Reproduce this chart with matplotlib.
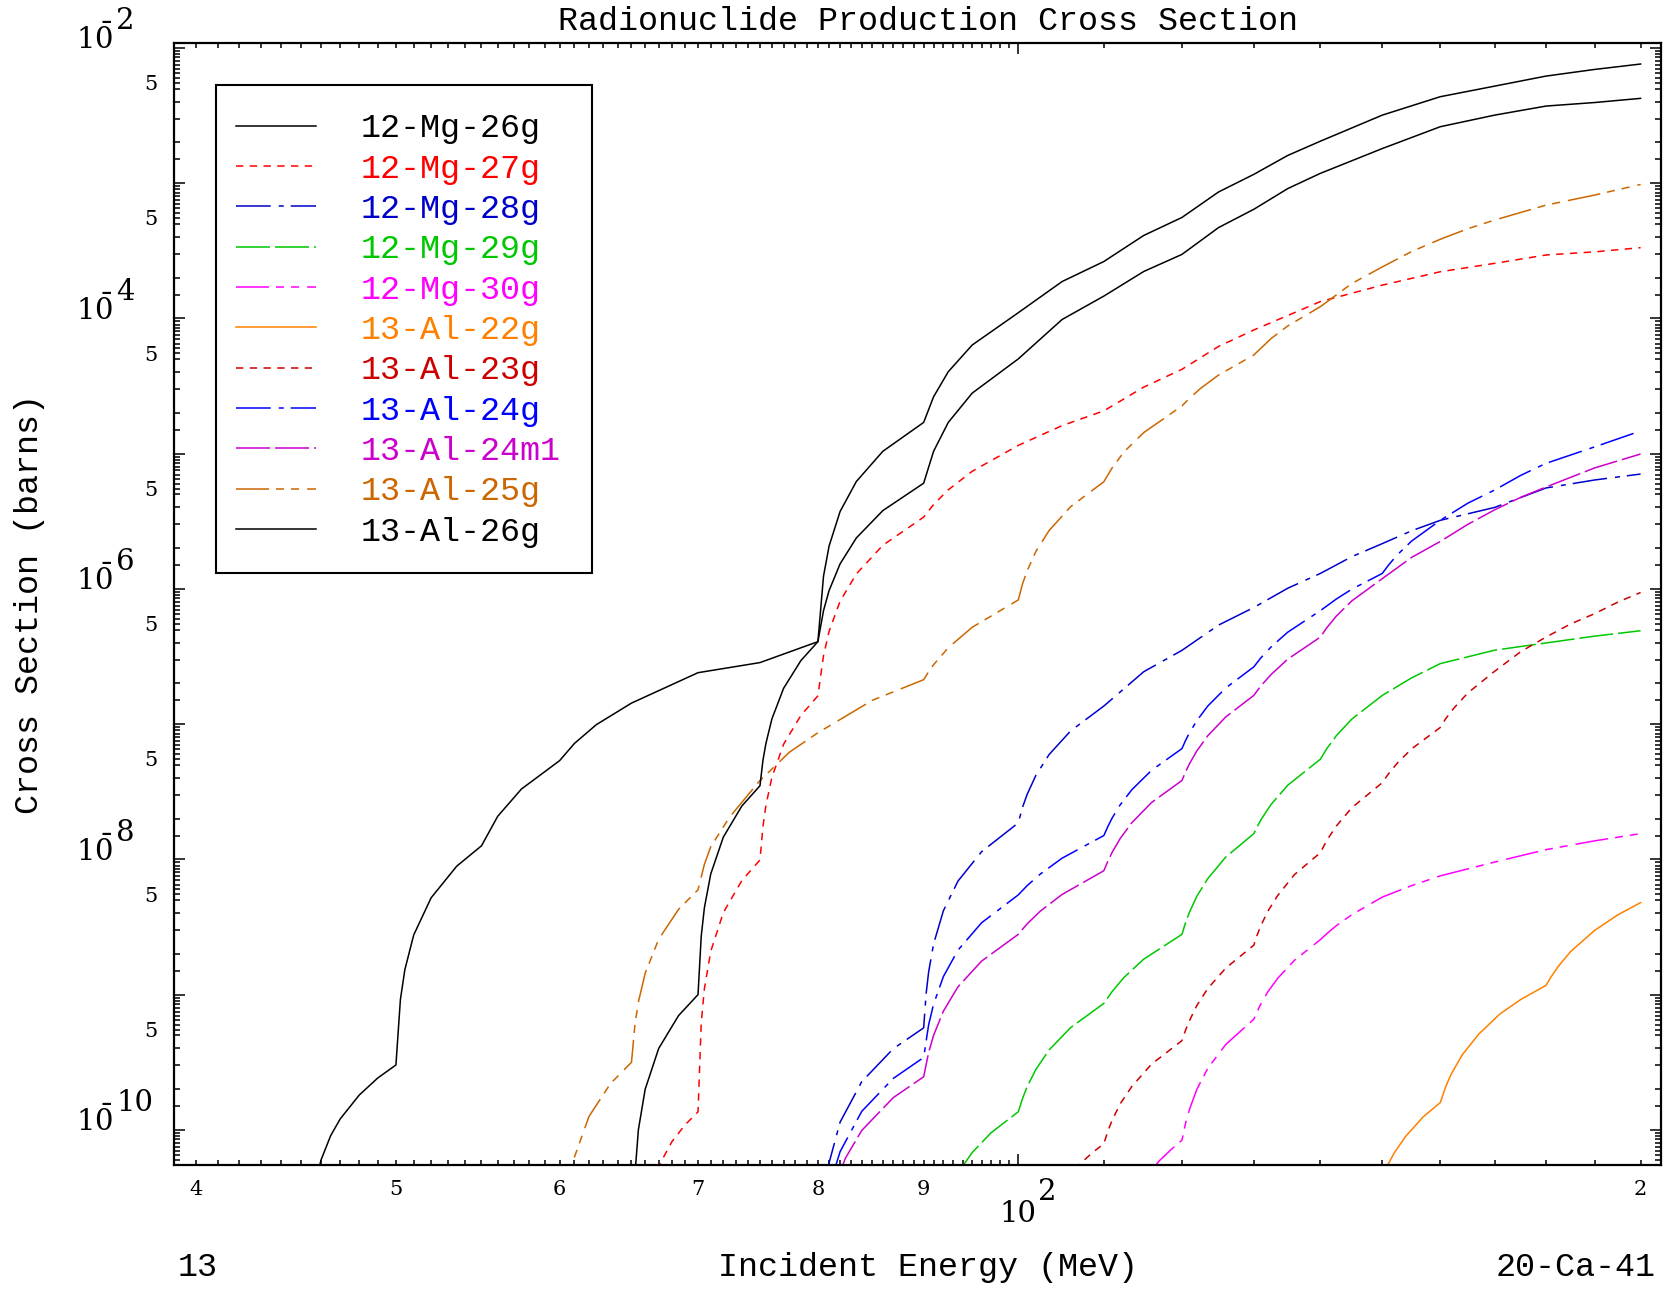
import matplotlib
matplotlib.use("Agg")
import matplotlib.pyplot as plt
from matplotlib.patches import Rectangle
from matplotlib.ticker import FixedLocator, NullFormatter

plt.rcParams["lines.scale_dashes"] = False

# Radionuclide production cross sections (MeV, barns)
mg26_e = [45.5, 46, 46.5, 47, 48, 49, 50, 50.25, 50.5, 51, 52, 53.5, 55, 56, 57.5, 60, 61, 62.5, 65, 70, 75, 80,
          80.5, 81, 82, 83.5, 86, 90, 91, 92.5, 95, 100, 105, 110, 115, 120, 125, 130, 135, 140, 150, 160, 170,
          180, 190, 200]
mg26_xs = [3.0e-11, 6.0e-11, 9.1e-11, 1.21e-10, 1.81e-10, 2.42e-10, 3.02e-10, 9.2e-10, 1.53e-9, 2.76e-9, 5.2e-9,
           8.9e-9, 1.26e-8, 2.08e-8, 3.31e-8, 5.37e-8, 7.2e-8, 9.9e-8, 1.43e-7, 2.40e-7, 2.85e-7, 4.07e-7, 1.24e-6,
           2.07e-6, 3.73e-6, 6.22e-6, 1.04e-5, 1.70e-5, 2.63e-5, 4.03e-5, 6.35e-5, 1.10e-4, 1.87e-4, 2.63e-4,
           4.10e-4, 5.57e-4, 8.6e-4, 1.16e-3, 1.60e-3, 2.04e-3, 3.18e-3, 4.35e-3, 5.21e-3, 6.18e-3, 6.92e-3, 7.59e-3]

mg27_e = [66.5, 67, 68, 69, 70, 70.25, 70.5, 71, 72, 73.5, 75, 75.25, 75.5, 76, 77, 78.5, 80, 80.5, 81, 82, 83.5,
          86, 90, 91, 92.5, 95, 100, 105, 110, 115, 120, 125, 130, 140, 150, 160, 170, 180, 190, 200]
mg27_xs = [4.1e-11, 5.4e-11, 8.2e-11, 1.09e-10, 1.36e-10, 6.2e-10, 1.11e-9, 2.09e-9, 4.04e-9, 6.97e-9, 9.9e-9,
           1.75e-8, 2.51e-8, 4.03e-8, 7.1e-8, 1.16e-7, 1.62e-7, 3.2e-7, 4.85e-7, 8.1e-7, 1.29e-6, 2.1e-6, 3.39e-6,
           4.2e-6, 5.4e-6, 7.4e-6, 1.15e-5, 1.61e-5, 2.07e-5, 3.1e-5, 4.2e-5, 6.2e-5, 8.2e-5, 1.33e-4, 1.76e-4,
           2.21e-4, 2.55e-4, 2.94e-4, 3.10e-4, 3.33e-4]

mg28_e = [80.8, 81, 82, 84, 87, 90, 90.25, 90.5, 91, 92, 93.5, 96, 100, 100.5, 101, 102, 103.5, 106, 110, 115, 120,
          125, 130, 135, 140, 145, 150, 155, 160, 170, 180, 190, 200]
mg28_xs = [4.5e-11, 5.7e-11, 1.14e-10, 2.27e-10, 3.98e-10, 5.68e-10, 1.02e-9, 1.47e-9, 2.37e-9, 4.17e-9, 6.9e-9,
           1.14e-8, 1.86e-8, 2.45e-8, 3.03e-8, 4.2e-8, 5.96e-8, 8.9e-8, 1.36e-7, 2.44e-7, 3.51e-7, 5.4e-7, 7.28e-7,
           1.01e-6, 1.30e-6, 1.73e-6, 2.16e-6, 2.69e-6, 3.21e-6, 4.0e-6, 5.57e-6, 6.38e-6, 7.06e-6]

mg29_e = [93.5, 94, 95, 97, 100, 100.5, 101, 102, 103.5, 106, 110, 111, 112.5, 115, 120, 120.5, 121, 122, 123.5, 126,
          130, 131, 132.5, 135, 140, 141, 142.5, 145, 150, 155, 160, 170, 180, 190, 200]
mg29_xs = [4.8e-11, 5.4e-11, 6.8e-11, 9.5e-11, 1.36e-10, 1.72e-10, 2.09e-10, 2.81e-10, 3.9e-10, 5.7e-10, 8.61e-10,
           1.05e-9, 1.34e-9, 1.83e-9, 2.79e-9, 3.43e-9, 4.06e-9, 5.33e-9, 7.2e-9, 1.04e-8, 1.55e-8, 1.95e-8, 2.54e-8,
           3.53e-8, 5.5e-8, 6.58e-8, 8.2e-8, 1.09e-7, 1.63e-7, 2.2e-7, 2.80e-7, 3.52e-7, 3.98e-7, 4.47e-7, 4.9e-7]

mg30_e = [116, 117, 118.5, 120, 120.5, 121, 122, 123.5, 126, 130, 130.5, 131, 132, 133.5, 136, 140, 141, 142.5, 145,
          150, 155, 160, 170, 180, 190, 200]
mg30_xs = [5.0e-11, 5.9e-11, 7.1e-11, 8.4e-11, 1.13e-10, 1.41e-10, 1.99e-10, 2.85e-10, 4.28e-10, 6.58e-10, 7.5e-10,
           8.5e-10, 1.04e-9, 1.32e-9, 1.79e-9, 2.55e-9, 2.82e-9, 3.23e-9, 3.9e-9, 5.26e-9, 6.4e-9, 7.55e-9, 9.55e-9,
           1.18e-8, 1.37e-8, 1.55e-8]

al22_e = [150.5, 151, 152, 154, 157, 160, 161, 162, 164, 167, 171, 175, 180, 181, 182.5, 185, 190, 195, 200]
al22_xs = [5.0e-11, 5.6e-11, 6.75e-11, 9.0e-11, 1.25e-10, 1.59e-10, 2.1e-10, 2.6e-10, 3.6e-10, 5.1e-10, 7.2e-10,
           9.2e-10, 1.17e-9, 1.35e-9, 1.62e-9, 2.08e-9, 2.98e-9, 3.89e-9, 4.79e-9]

al23_e = [106.5, 107, 108.5, 110, 110.5, 111, 112, 113.5, 116, 120, 120.5, 121, 122, 123.5, 126, 130, 130.5, 131, 132,
          133.5, 136, 140, 141, 142.5, 145, 150, 151, 152.5, 155, 160, 161, 162.5, 165, 170, 175, 180, 185, 190,
          195, 200]
al23_xs = [5.1e-11, 5.5e-11, 6.7e-11, 7.9e-11, 9.8e-11, 1.17e-10, 1.55e-10, 2.1e-10, 3.06e-10, 4.57e-10, 5.5e-10,
           6.4e-10, 8.3e-10, 1.11e-9, 1.57e-9, 2.32e-9, 2.77e-9, 3.21e-9, 4.1e-9, 5.4e-9, 7.7e-9, 1.12e-8, 1.38e-8,
           1.76e-8, 2.41e-8, 3.69e-8, 4.27e-8, 5.13e-8, 6.57e-8, 9.44e-8, 1.1e-7, 1.32e-7, 1.70e-7, 2.46e-7,
           3.43e-7, 4.40e-7, 5.5e-7, 6.55e-7, 7.98e-7, 9.4e-7]

al24_e = [81.5, 82, 84, 87, 90, 90.5, 91, 92, 93.5, 96, 100, 101, 102.5, 105, 110, 110.5, 111, 112, 113.5, 116, 120,
          120.5, 121, 122, 123.5, 126, 130, 131, 132.5, 135, 140, 142.5, 145, 150, 151, 152.5, 155, 160, 165, 170,
          175, 180, 190, 200]
al24_xs = [5.1e-11, 6.9e-11, 1.37e-10, 2.4e-10, 3.43e-10, 5.98e-10, 8.5e-10, 1.36e-9, 2.13e-9, 3.4e-9, 5.46e-9,
           6.4e-9, 7.8e-9, 1.02e-8, 1.50e-8, 1.75e-8, 2.01e-8, 2.52e-8, 3.28e-8, 4.55e-8, 6.59e-8, 7.6e-8, 8.6e-8,
           1.06e-7, 1.36e-7, 1.85e-7, 2.65e-7, 3.08e-7, 3.71e-7, 4.78e-7, 6.9e-7, 8.4e-7, 9.95e-7, 1.30e-6, 1.49e-6,
           1.78e-6, 2.26e-6, 3.21e-6, 4.3e-6, 5.38e-6, 6.9e-6, 8.47e-6, 1.12e-5, 1.47e-5]

al24m1_e = [82, 82.5, 84, 87, 90, 90.5, 91, 92, 93.5, 96, 100, 101, 102.5, 105, 110, 110.5, 111, 112, 113.5, 116, 120,
            120.5, 121, 122, 123.5, 126, 130, 131, 132.5, 135, 140, 141, 142.5, 145, 150, 155, 160, 165, 170, 175,
            180, 190, 200]
al24m1_xs = [4.9e-11, 6.2e-11, 9.9e-11, 1.73e-10, 2.47e-10, 3.74e-10, 5.0e-10, 7.55e-10, 1.14e-9, 1.77e-9, 2.79e-9,
             3.34e-9, 4.15e-9, 5.5e-9, 8.24e-9, 9.7e-9, 1.12e-8, 1.42e-8, 1.87e-8, 2.63e-8, 3.83e-8, 4.45e-8,
             5.08e-8, 6.33e-8, 8.2e-8, 1.13e-7, 1.63e-7, 1.91e-7, 2.32e-7, 3.02e-7, 4.40e-7, 5.15e-7, 6.28e-7,
             8.15e-7, 1.19e-6, 1.71e-6, 2.24e-6, 3.0e-6, 3.84e-6, 4.75e-6, 5.66e-6, 7.83e-6, 9.93e-6]

al25_e = [60.5, 61, 62, 63.5, 65, 65.25, 65.5, 66, 67, 68.5, 70, 70.5, 71, 72.5, 75, 77.5, 80, 85, 90, 90.5, 91,
          92.5, 95, 100, 100.5, 101, 102, 103.5, 106, 110, 111, 112.5, 115, 120, 121, 122.5, 125, 130, 132.5, 135,
          140, 145, 150, 155, 160, 165, 170, 180, 190, 200]
al25_xs = [3.2e-11, 6.3e-11, 1.26e-10, 2.2e-10, 3.16e-10, 6.0e-10, 8.8e-10, 1.44e-9, 2.57e-9, 4.27e-9, 5.96e-9,
           9.2e-9, 1.24e-8, 2.05e-8, 3.83e-8, 6.2e-8, 8.63e-8, 1.5e-7, 2.13e-7, 2.44e-7, 2.75e-7, 3.67e-7, 5.2e-7,
           8.28e-7, 1.1e-6, 1.36e-6, 1.90e-6, 2.7e-6, 4.05e-6, 6.19e-6, 7.8e-6, 1.03e-5, 1.43e-5, 2.25e-5, 2.56e-5,
           3.03e-5, 3.81e-5, 5.36e-5, 7.07e-5, 8.78e-5, 1.22e-4, 1.81e-4, 2.40e-4, 3.12e-4, 3.84e-4, 4.6e-4,
           5.33e-4, 6.87e-4, 8.15e-4, 9.77e-4]

al26_e = [65.2, 65.5, 66, 67, 68.5, 70, 70.25, 70.5, 71, 72, 73.5, 75, 75.25, 75.5, 76, 77, 78.5, 80, 80.5, 81, 82,
          83.5, 86, 90, 91, 92.5, 95, 100, 105, 110, 115, 120, 125, 130, 135, 140, 150, 160, 170, 180, 190, 200]
al26_xs = [4.0e-11, 1.0e-10, 2.0e-10, 4.0e-10, 7.0e-10, 1.0e-9, 2.7e-9, 4.4e-9, 7.8e-9, 1.46e-8, 2.48e-8, 3.5e-8,
           5.4e-8, 7.2e-8, 1.09e-7, 1.84e-7, 2.95e-7, 4.07e-7, 6.9e-7, 9.7e-7, 1.53e-6, 2.38e-6, 3.79e-6, 6.04e-6,
           1.04e-5, 1.70e-5, 2.80e-5, 5.01e-5, 9.8e-5, 1.46e-4, 2.22e-4, 2.97e-4, 4.69e-4, 6.40e-4, 9.1e-4,
           1.18e-3, 1.80e-3, 2.61e-3, 3.18e-3, 3.71e-3, 3.94e-3, 4.23e-3]

labels = ["12-Mg-26g", "12-Mg-27g", "12-Mg-28g", "12-Mg-29g", "12-Mg-30g", "13-Al-22g",
          "13-Al-23g", "13-Al-24g", "13-Al-24m1", "13-Al-25g", "13-Al-26g"]
energies = [mg26_e, mg27_e, mg28_e, mg29_e, mg30_e, al22_e, al23_e, al24_e, al24m1_e, al25_e, al26_e]
xsecs = [mg26_xs, mg27_xs, mg28_xs, mg29_xs, mg30_xs, al22_xs, al23_xs, al24_xs, al24m1_xs, al25_xs, al26_xs]
colors = ["black", "#ff0000", "#0000cc", "#00c800", "#ff00ff", "#ff8000",
          "#cc0000", "#0000ff", "#cc00cc", "#cc6600", "black"]

# dash patterns in points
solid = None
short = (5.3, 4.6)
dashdot = (25, 5.8, 3.6, 5.0)
longdash = (24.5, 3.6)
dashdot2 = (23.8, 5.0, 5.8, 5.0, 5.8, 5.8)
styles = [solid, short, dashdot, longdash, dashdot2, solid, short, dashdot, longdash, dashdot2, solid]

mono = "Liberation Mono"
serif = "DejaVu Serif"

fig = plt.figure(figsize=(16.65, 12.9), dpi=100)
ax = fig.add_axes([174 / 1665, 1 - 1165 / 1290, 1487 / 1665, 1121.7 / 1290])

for lab, e, xs, c, ds in zip(labels, energies, xsecs, colors, styles):
    if ds is None:
        ax.plot(e, xs, color=c, lw=1.1, label=lab)
    else:
        ax.plot(e, xs, color=c, lw=1.1, dashes=ds, label=lab)

ax.set_xscale("log")
ax.set_yscale("log")
ax.set_xlim(39.05, 204.6)
ax.set_ylim(5.5e-11, 1.08e-2)

# ticks
x_minor = list(range(39, 100)) + list(range(110, 210, 10))
y_mult = [1.5, 2, 3, 4, 5, 5.5, 6, 6.5, 7, 7.5, 8, 8.5, 9, 9.5]
ax.xaxis.set_major_locator(FixedLocator([100]))
ax.xaxis.set_minor_locator(FixedLocator(x_minor))
ax.yaxis.set_major_locator(FixedLocator([10.0 ** k for k in range(-11, -1)]))
ax.yaxis.set_minor_locator(FixedLocator([m * 10.0 ** k for k in range(-11, -1) for m in y_mult]))
for axis in (ax.xaxis, ax.yaxis):
    axis.set_major_formatter(NullFormatter())
    axis.set_minor_formatter(NullFormatter())
ax.tick_params(which="both", direction="in", top=True, right=True, width=1.1, color="black")
ax.tick_params(which="major", length=7.9)
ax.yaxis.set_tick_params(which="minor", length=4.3)
ax.xaxis.set_tick_params(which="minor", length=3.8)
for sp in ax.spines.values():
    sp.set_linewidth(1.6)

# y tick labels, drawn in the style of the original plot (bar over the zero, exponent raised)
for k in [-2, -4, -6, -8, -10]:
    ax.annotate(r"$\mathregular{1\bar{0}}$", xy=(0, 10.0 ** k), xycoords=("axes fraction", "data"),
                xytext=(-61, -1.5), textcoords="offset pixels", ha="right", va="baseline",
                fontsize=21, family=serif)
    ax.annotate(str(-k), xy=(0, 10.0 ** k), xycoords=("axes fraction", "data"), xytext=(-58, 18.5),
                textcoords="offset pixels", ha="left", va="baseline", fontsize=21, family=serif)
for k in range(-10, -2):
    ax.annotate("5", xy=(0, 5 * 10.0 ** k), xycoords=("axes fraction", "data"), xytext=(-16, -1.5),
                textcoords="offset pixels", ha="right", va="baseline", fontsize=15, family=serif)

# x tick labels
for v in [40, 50, 60, 70, 80, 90, 200]:
    ax.annotate(str(v)[0], xy=(v, 0), xycoords=("data", "axes fraction"), xytext=(0, -30),
                textcoords="offset pixels", ha="center", va="baseline", fontsize=15, family=serif)
ax.annotate("10", xy=(100, 0), xycoords=("data", "axes fraction"), xytext=(18, -56.7),
            textcoords="offset pixels", ha="right", va="baseline", fontsize=21, family=serif)
ax.annotate("2", xy=(100, 0), xycoords=("data", "axes fraction"), xytext=(20, -35),
            textcoords="offset pixels", ha="left", va="baseline", fontsize=21, family=serif)

# legend: entries placed by matplotlib, box drawn separately so its padding matches
leg = ax.legend(loc="upper left", bbox_to_anchor=(0.028, 0.9555), borderaxespad=0, frameon=False,
                prop={"family": mono, "size": 24}, handlelength=2.4, handletextpad=1.34,
                labelspacing=0.28, borderpad=0.6)
leg.set_zorder(6)
for txt, c in zip(leg.get_texts(), colors):
    txt.set_color(c)
ax.add_patch(Rectangle((0.028, 0.5274), 0.2528, 0.4357, transform=ax.transAxes, facecolor="white",
                       edgecolor="black", lw=1.5, zorder=5))

fig.text(927.6 / 1665, 1 - 30 / 1290, "Radionuclide Production Cross Section", ha="center", va="baseline",
         fontsize=24, family=mono)
fig.text(30 / 1665, 1 - 604 / 1290, "Cross Section (barns)", rotation=90, ha="center", va="center",
         fontsize=24, family=mono)
fig.text(178 / 1665, 1 - 1276 / 1290, "13", ha="left", va="baseline", fontsize=24, family=mono)
fig.text(928.5 / 1665, 1 - 1276 / 1290, "Incident Energy (MeV)", ha="center", va="baseline", fontsize=24,
         family=mono)
fig.text(1656 / 1665, 1 - 1276 / 1290, "20-Ca-41", ha="right", va="baseline", fontsize=24, family=mono)

fig.savefig("out.png", dpi=100)
